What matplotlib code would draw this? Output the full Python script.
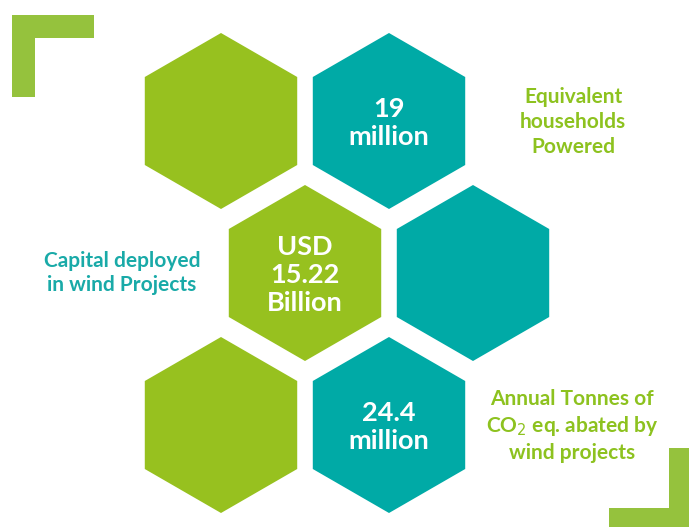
import matplotlib
matplotlib.use("Agg")
import matplotlib.pyplot as plt
from matplotlib.patches import RegularPolygon, Rectangle

GREEN = "#97c11f"
TEAL = "#00aaa6"
BRACKET = "#95c23d"

# hexagon grid (pixel centres) and fill
hex_x = [221, 389, 305, 473, 221, 389]
hex_y = [121, 121, 273, 273, 425, 425]
hex_col = [GREEN, TEAL, GREEN, TEAL, GREEN, TEAL]

# figures inside hexagons
values = ["", "19\nmillion", "USD\n15.22\nBillion", "", "", "24.4\nmillion"]

# side captions
cap_text = ["Equivalent\nhouseholds\nPowered",
            "Capital deployed\nin wind Projects",
            "Annual Tonnes of\nCO$_2$ eq. abated by\nwind projects"]
cap_x = [573, 122, 572]
cap_y = [122, 273, 426]
cap_col = ["#8dc21f", "#19aaa8", "#8dc21f"]

W, H = 689, 527
fig = plt.figure(figsize=(W / 100, H / 100), dpi=100)
ax = fig.add_axes([0, 0, 1, 1])
ax.set_xlim(0, W)
ax.set_ylim(H, 0)
ax.axis("off")

plt.rcParams['font.family'] = ['Lato', 'DejaVu Sans']

for x, y, c, v in zip(hex_x, hex_y, hex_col, values):
    ax.add_patch(RegularPolygon((x, y), numVertices=6, radius=88, color=c, lw=0))
    if v:
        ax.text(x, y + 2, v, color="white", ha="center", va="center",
                fontsize=19.5, fontweight="bold", linespacing=1.2)

for t, x, y, c in zip(cap_text, cap_x, cap_y, cap_col):
    ax.text(x, y, t, color=c, ha="center", va="center",
            fontsize=15, fontweight="bold", linespacing=1.3)

# corner brackets
ax.add_patch(Rectangle((12, 15), 82, 23, color=BRACKET, lw=0))
ax.add_patch(Rectangle((12, 15), 23, 82, color=BRACKET, lw=0))
ax.add_patch(Rectangle((609, 508), 90, 23, color=BRACKET, lw=0))
ax.add_patch(Rectangle((669, 448), 23, 90, color=BRACKET, lw=0))

fig.savefig("out.png", dpi=100)
